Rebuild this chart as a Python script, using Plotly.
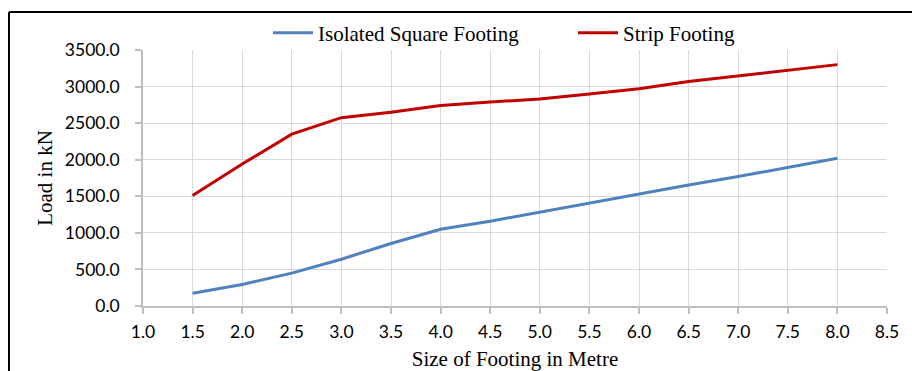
import plotly.graph_objects as go

sizes = [1.5, 2.0, 2.5, 3.0, 3.5, 4.0, 4.5, 5.0, 5.5, 6.0, 6.5, 7.0, 7.5, 8.0]
isolated_square = [175, 295, 450, 640, 855, 1050, 1160, 1285, 1405, 1525, 1655, 1770, 1895, 2020]
strip = [1510, 1940, 2350, 2575, 2650, 2740, 2790, 2830, 2900, 2970, 3070, 3150, 3230, 3300]

x_ticks = [1.0, 1.5, 2.0, 2.5, 3.0, 3.5, 4.0, 4.5, 5.0, 5.5, 6.0, 6.5, 7.0, 7.5, 8.0, 8.5]
y_ticks = [0, 500, 1000, 1500, 2000, 2500, 3000, 3500]

W, H = 912, 371
L, R, T, B = 143, 25, 50, 65
pw, ph = W - L - R, H - T - B

def px(xp):
    return (xp - L) / pw

def py(yp):
    return (H - B - yp) / ph

fig = go.Figure()
fig.add_trace(go.Scatter(x=sizes, y=isolated_square, mode="lines", name="Isolated Square Footing",
                         line=dict(color="#4F81BD", width=3)))
fig.add_trace(go.Scatter(x=sizes, y=strip, mode="lines", name="Strip Footing",
                         line=dict(color="#C00000", width=3)))

tickfont = dict(family="Lato", size=17.5, color="#000000")
serif = dict(family="Liberation Serif", size=21, color="#000000")

fig.update_layout(
    width=W, height=H,
    margin=dict(l=L, r=R, t=T, b=B, autoexpand=False),
    paper_bgcolor="white", plot_bgcolor="white",
    showlegend=True,
    legend=dict(orientation="h", x=px(268), xanchor="left", y=py(33), yanchor="middle",
                font=serif, bgcolor="rgba(0,0,0,0)", itemwidth=40,
                entrywidth=250, entrywidthmode="pixels"),
    xaxis=dict(range=[1.0, 8.5], tickvals=x_ticks, ticktext=[f"{v:.1f}" for v in x_ticks],
               showgrid=True, gridcolor="#D9D9D9", gridwidth=1,
               showline=True, linecolor="#BFBFBF", linewidth=1.5,
               ticks="outside", ticklen=6, tickcolor="#BFBFBF", tickwidth=1.5,
               tickfont=tickfont, zeroline=False, mirror=False, ticklabelstandoff=3,
               automargin=False,
               title=dict(text="Size of Footing in Metre", font=serif, standoff=13)),
    yaxis=dict(range=[0, 3500], tickvals=y_ticks, ticktext=[f"{v:.1f}" for v in y_ticks],
               showgrid=True, gridcolor="#D9D9D9", gridwidth=1,
               showline=True, linecolor="#BFBFBF", linewidth=1.5,
               ticks="outside", ticklen=6, tickcolor="#BFBFBF", tickwidth=1.5,
               tickfont=tickfont, zeroline=False, ticklabelstandoff=12,
               automargin=False,
               title=dict(text="Load in kN", font=serif, standoff=7)),
)

fig.add_shape(type="line", xref="paper", yref="paper", x0=px(9), x1=px(W + 5), y0=py(12), y1=py(12),
              line=dict(color="#000000", width=2))
fig.add_shape(type="line", xref="paper", yref="paper", x0=px(9), x1=px(9), y0=py(12), y1=py(H + 5),
              line=dict(color="#000000", width=2))

fig.write_html("out.html")
